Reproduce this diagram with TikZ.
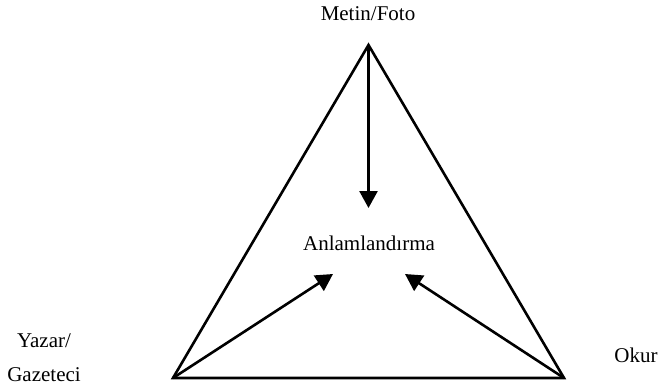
\documentclass[tikz,border=0pt]{standalone}
\usepackage{fontspec}
\setmainfont{Liberation Serif}
\usetikzlibrary{arrows.meta}
\begin{document}
\begin{tikzpicture}[x=1pt,y=-1pt,
  lbl/.style={anchor=base,inner sep=0pt,font=\fontsize{21}{25}\selectfont},
  edge/.style={line width=2.6pt,line join=miter},
  arr/.style={line width=2.6pt,-{Triangle[width=18pt,length=17pt]}}]
\useasboundingbox (0,0) rectangle (660,386);
\coordinate (top) at (368.5,45);
\coordinate (bl) at (173,378);
\coordinate (br) at (564,378);
\coordinate (tipT) at (368.5,208);
\coordinate (tipL) at (333,274);
\coordinate (tipR) at (405,274);
\draw[edge] (top) -- (bl) -- (br) -- cycle;
\draw[arr] (top) -- (tipT);
\draw[arr] (bl) -- (tipL);
\draw[arr] (br) -- (tipR);
\node[lbl] (metin) at (368,20) {Metin/Foto};
\node[lbl] (anl) at (369,250) {Anlamlandırma};
\node[lbl] (yazar) at (44,347) {Yazar/};
\node[lbl] (gaz) at (44,381) {Gazeteci};
\node[lbl] (okur) at (636,362) {Okur};
\end{tikzpicture}
\end{document}
